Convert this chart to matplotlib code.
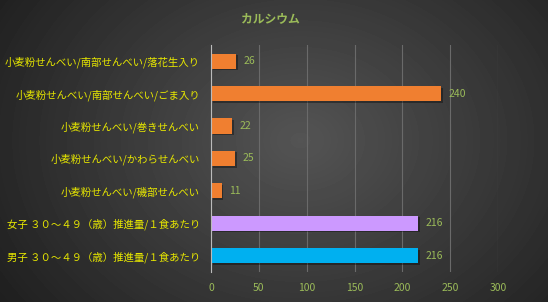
import numpy as np
import matplotlib
matplotlib.use('Agg')
import matplotlib.pyplot as plt

plt.rcParams['font.family'] = ['Noto Sans CJK JP', 'DejaVu Sans']

# data (top to bottom as shown)
labels = [
    '小麦粉せんべい/南部せんべい/落花生入り',
    '小麦粉せんべい/南部せんべい/ごま入り',
    '小麦粉せんべい/巻きせんべい',
    '小麦粉せんべい/かわらせんべい',
    '小麦粉せんべい/磯部せんべい',
    '女子 ３０～４９（歳）推進量/１食あたり',
    '男子 ３０～４９（歳）推進量/１食あたり',
]
values = [26, 240, 22, 25, 11, 216, 216]
colors = ['#F07F30'] * 5 + ['#CC99FF', '#00B0F0']
xticks = [0, 50, 100, 150, 200, 250, 300]

fig = plt.figure(figsize=(5.48, 3.02), dpi=100)

# radial gradient background
bg = fig.add_axes([0, 0, 1, 1])
yy, xx = np.mgrid[0:302, 0:548]
r = np.sqrt(((xx - 300) / 330.0) ** 2 + ((yy - 140) / 260.0) ** 2)
shade = np.clip(0.33 - 0.19 * r, 0.12, 0.33)
bg.imshow(shade, cmap='gray', vmin=0, vmax=1, aspect='auto')
bg.axis('off')

ax = fig.add_axes([0.385, 0.10, 0.524, 0.751])
ax.patch.set_alpha(0)
ypos = np.arange(len(values))

# shadows
ax.barh(ypos + 0.05, values, height=0.47, left=2, color='black', alpha=0.35, zorder=2)
ax.barh(ypos, values, height=0.47, color=colors, zorder=3)

for y, v in zip(ypos, values):
    ax.text(v + 8, y, str(v), va='center', ha='left', color='#9BBB59', fontsize=7.5)

ax.set_xlim(0, 300)
ax.set_ylim(len(values) - 0.5, -0.5)
ax.set_xticks(xticks)
ax.set_xticklabels([str(t) for t in xticks], color='#9BBB59', fontsize=7.5)
ax.set_yticks(ypos)
ax.set_yticklabels(labels, color='#E8E800', fontsize=7.5)
ax.tick_params(length=0, pad=8)
ax.grid(axis='x', color='#6A6A6A', lw=0.8, zorder=0)
for s in ['top', 'right', 'bottom']:
    ax.spines[s].set_visible(False)
ax.spines['left'].set_color('#BBBBBB')
ax.spines['left'].set_zorder(4)

fig.text(0.493, 0.94, 'カルシウム', ha='center', va='center', color='#9BBB59',
         fontsize=8.5, fontweight='bold')

fig.savefig('out.png', dpi=100)
